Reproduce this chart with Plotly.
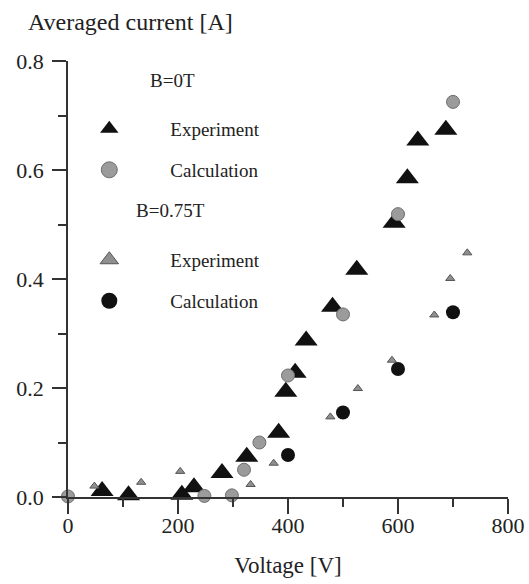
import plotly.graph_objects as go

# ---------------- data ----------------
exp0_v = [62, 110, 207, 229, 280, 325, 383, 396, 413, 433, 481, 525, 593, 617, 636, 687]
exp0_i = [0.011, 0.003, 0.004, 0.018, 0.044, 0.074, 0.118, 0.193, 0.228, 0.287,
          0.349, 0.417, 0.503, 0.585, 0.654, 0.674]

calc0_v = [0, 248, 298, 320, 348, 400, 500, 600, 700]
calc0_i = [0.001, 0.002, 0.003, 0.050, 0.100, 0.223, 0.335, 0.519, 0.725]

exp75_v = [48, 133, 204, 332, 374, 477, 527, 589, 666, 695, 726]
exp75_i = [0.020, 0.027, 0.047, 0.023, 0.062, 0.147, 0.199, 0.251, 0.334, 0.401, 0.448]

calc75_v = [400, 500, 600, 700]
calc75_i = [0.077, 0.155, 0.235, 0.339]

x_ticks = [0, 200, 400, 600, 800]
y_ticks = [0.0, 0.2, 0.4, 0.6, 0.8]
y_tick_text = ["0.0", "0.2", "0.4", "0.6", "0.8"]

FONT = "Liberation Serif"
INK = "#222222"
AX = "#333333"

# styles
sty_exp0 = dict(symbol="triangle-up", color="#111111", line=dict(width=0))
sty_calc0 = dict(symbol="circle", color="#9b9b9b", line=dict(color="#6e6e6e", width=1))
sty_exp75 = dict(symbol="triangle-up", color="#8f8f8f", line=dict(color="#555555", width=1))
sty_calc75 = dict(symbol="circle", color="#111111", line=dict(width=0))

fig = go.Figure()

fig.add_trace(go.Scatter(x=exp0_v, y=exp0_i, mode="markers",
                         marker=dict(size=20, **sty_exp0), showlegend=False, cliponaxis=False))
fig.add_trace(go.Scatter(x=calc0_v, y=calc0_i, mode="markers",
                         marker=dict(size=13, **sty_calc0), showlegend=False, cliponaxis=False))
fig.add_trace(go.Scatter(x=exp75_v, y=exp75_i, mode="markers",
                         marker=dict(size=8, **sty_exp75), showlegend=False, cliponaxis=False))
fig.add_trace(go.Scatter(x=calc75_v, y=calc75_i, mode="markers",
                         marker=dict(size=14, **sty_calc75), showlegend=False, cliponaxis=False))

# legend-only entries (one legend each so they can be placed like the original key)
for sty, nm, lg in [(sty_exp0, "Experiment", "legend"),
                    (sty_calc0, "Calculation", "legend2"),
                    (sty_exp75, "Experiment", "legend3"),
                    (sty_calc75, "Calculation", "legend4")]:
    fig.add_trace(go.Scatter(x=[None], y=[None], mode="markers", name=nm,
                             marker=dict(size=16, **sty), showlegend=True, legend=lg))

L, R, T, B = 67.7, 21.3, 61, 86.8
W, H = 529, 584
pw, ph = W - L - R, H - T - B


def px2x(px):
    return (px - L) / pw


def py2y(py):
    return (H - B - py) / ph


leg_common = dict(font=dict(family=FONT, size=19, color=INK), bgcolor="rgba(0,0,0,0)",
                  itemwidth=112, xanchor="left", yanchor="middle", borderwidth=0)
lx = px2x(48)
fig.update_layout(
    legend=dict(x=lx, y=py2y(129), **leg_common),
    legend2=dict(x=lx, y=py2y(170), **leg_common),
    legend3=dict(x=lx, y=py2y(260), **leg_common),
    legend4=dict(x=lx, y=py2y(301), **leg_common),
)

fig.update_layout(
    width=W, height=H,
    margin=dict(l=L, r=R, t=T, b=B, pad=0, autoexpand=False),
    paper_bgcolor="white", plot_bgcolor="white",
    font=dict(family=FONT, color=INK),
    xaxis=dict(range=[0, 800], tickvals=x_ticks, showgrid=False, zeroline=False,
               showline=True, linecolor=AX, linewidth=1.5, automargin=False,
               ticks="outside", ticklen=15, tickwidth=1.5, tickcolor=AX,
               minor=dict(dtick=100, ticks="outside", ticklen=8, tickwidth=1.5,
                          tickcolor=AX, showgrid=False),
               tickfont=dict(family=FONT, size=22, color=INK), ticklabelstandoff=-7,
               title=dict(text="Voltage [V]", font=dict(family=FONT, size=23, color=INK),
                          standoff=20)),
    yaxis=dict(range=[0, 0.8], tickvals=y_ticks, ticktext=y_tick_text, showgrid=False,
               zeroline=False, showline=True, linecolor=AX, linewidth=1.5, automargin=False,
               ticks="outside", ticklen=14, tickwidth=1.5, tickcolor=AX,
               minor=dict(dtick=0.1, ticks="outside", ticklen=8, tickwidth=1.5,
                          tickcolor=AX, showgrid=False),
               tickfont=dict(family=FONT, size=22, color=INK), ticklabelstandoff=4),
    annotations=[
        dict(text="Averaged current [A]", xref="paper", yref="paper",
             x=px2x(26), y=py2y(22), xanchor="left", yanchor="middle", showarrow=False,
             font=dict(family=FONT, size=24, color=INK)),
        dict(text="B=0T", xref="paper", yref="paper", x=px2x(172), y=py2y(81),
             xanchor="center", yanchor="middle", showarrow=False,
             font=dict(family=FONT, size=19, color=INK)),
        dict(text="B=0.75T", xref="paper", yref="paper", x=px2x(170), y=py2y(211),
             xanchor="center", yanchor="middle", showarrow=False,
             font=dict(family=FONT, size=19, color=INK)),
    ],
)

fig.write_html("out.html", config={"displayModeBar": False},
               post_script="document.body.style.margin='0';")
